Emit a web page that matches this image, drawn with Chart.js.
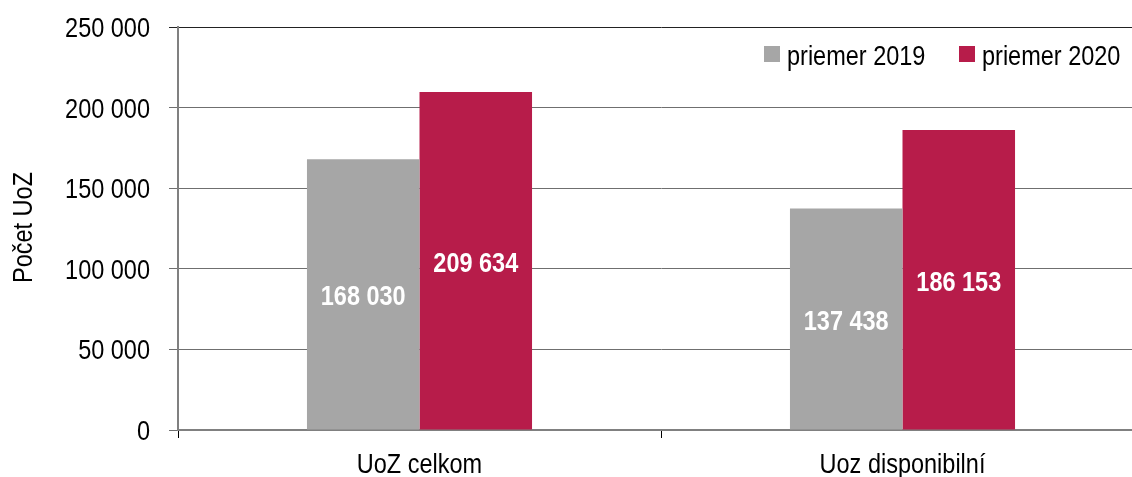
<!DOCTYPE html>
<html>
<head>
<meta charset="utf-8">
<script src="https://cdn.jsdelivr.net/npm/chart.js@4.4.1/dist/chart.umd.min.js"></script>
<style>
    html, body { margin: 0; padding: 0; background: #fff; overflow: hidden; }
    #wrap { width: 1144px; height: 477px; }
</style>
</head>
<body>
<div id="wrap"><canvas id="uoz-chart" width="1144" height="477"></canvas></div>
<script>
// Dáta grafu
var categories = ['UoZ celkom', 'Uoz disponibilní'];
var seriesNames = ['priemer 2019', 'priemer 2020'];
var values2019 = [168030, 137438];
var values2020 = [209634, 186153];
var yTicks = [0, 50000, 100000, 150000, 200000, 250000];
var yTitle = 'Počet UoZ';

var fontFamily = '"Liberation Sans", Arial, sans-serif';
var narrow = 0.87; // písmo je v origináli zúžené (Arial Narrow)

function formatNumber(v) {
    return v.toString().replace(/\B(?=(\d{3})+(?!\d))/g, ' ');
}

// Zúžený text
function narrowText(ctx, text, x, y, align, font, color, rotate) {
    ctx.save();
    ctx.translate(x, y);
    if (rotate) ctx.rotate(rotate);
    ctx.scale(narrow, 1);
    ctx.font = font;
    ctx.fillStyle = color;
    ctx.textAlign = align;
    ctx.textBaseline = 'alphabetic';
    ctx.fillText(text, 0, 0);
    ctx.restore();
}

// Popisky osí a hodnôt
var textLayer = {
    id: 'textLayer',
    afterDatasetsDraw: function(chart) {
        var ctx = chart.ctx;
        var normal = '27px ' + fontFamily;
        var bold = 'bold 27px ' + fontFamily;

        // hodnoty v strede stĺpcov
        chart.data.datasets.forEach(function(ds, i) {
            chart.getDatasetMeta(i).data.forEach(function(bar, j) {
                var mid = (bar.y + bar.base) / 2;
                narrowText(ctx, formatNumber(ds.data[j]), bar.x, mid + 11, 'center', bold, '#ffffff');
            });
        });

        // os y
        var y = chart.scales.y;
        yTicks.forEach(function(v) {
            narrowText(ctx, formatNumber(v), 150, y.getPixelForValue(v) + 10, 'right', normal, '#000000');
        });
        var midY = (chart.chartArea.top + chart.chartArea.bottom) / 2;
        narrowText(ctx, yTitle, 32, midY - 1, 'center', normal, '#000000', -Math.PI / 2);

        // os x
        var x = chart.scales.x;
        categories.forEach(function(c, i) {
            narrowText(ctx, c, x.getPixelForValue(i), 473, 'center', normal, '#000000');
        });

        // legenda
        var xs = [764, 959];
        chart.data.datasets.forEach(function(ds, i) {
            ctx.fillStyle = ds.backgroundColor;
            ctx.fillRect(xs[i], 46, 16, 16);
            narrowText(ctx, ds.label, xs[i] + 23, 65, 'left', normal, '#000000');
        });
    }
};

var chartEl = document.getElementById('uoz-chart');
new Chart(chartEl, {
    type: 'bar',
    data: {
        labels: categories,
        datasets: [{
            label: seriesNames[0],
            data: values2019,
            backgroundColor: '#a6a6a6',
            borderWidth: 0
        },
        {
            label: seriesNames[1],
            data: values2020,
            backgroundColor: '#b71c4a',
            borderWidth: 0
        }]
    },
    options: {
        responsive: false,
        animation: false,
        devicePixelRatio: 1,
        categoryPercentage: 0.466,
        barPercentage: 1,
        layout: {
            padding: { top: 27, right: 0, bottom: 0, left: 0 }
        },
        plugins: {
            legend: { display: false },
            tooltip: { enabled: false }
        },
        scales: {
            x: {
                grid: {
                    drawOnChartArea: false,
                    drawTicks: true,
                    tickLength: 8,
                    color: '#000000',
                    lineWidth: 1
                },
                border: { color: '#808080', width: 2 },
                ticks: {
                    color: 'rgba(0,0,0,0)',
                    padding: 0,
                    font: { family: fontFamily, size: 8 }
                },
                afterFit: function(scale) { scale.height = 47; }
            },
            y: {
                min: 0,
                max: 250000,
                afterBuildTicks: function(scale) {
                    scale.ticks = yTicks.map(function(v) { return { value: v }; });
                },
                grid: {
                    tickLength: 9,
                    color: function(c) { return c.tick && c.tick.value === 250000 ? '#222222' : '#6f6f6f'; },
                    lineWidth: 1
                },
                border: { color: '#808080', width: 2 },
                ticks: {
                    color: 'rgba(0,0,0,0)',
                    padding: 0,
                    font: { family: fontFamily, size: 8 },
                    callback: function(v) { return formatNumber(v); }
                },
                afterFit: function(scale) { scale.width = 178; }
            }
        }
    },
    plugins: [textLayer]
});
</script>
</body>
</html>
